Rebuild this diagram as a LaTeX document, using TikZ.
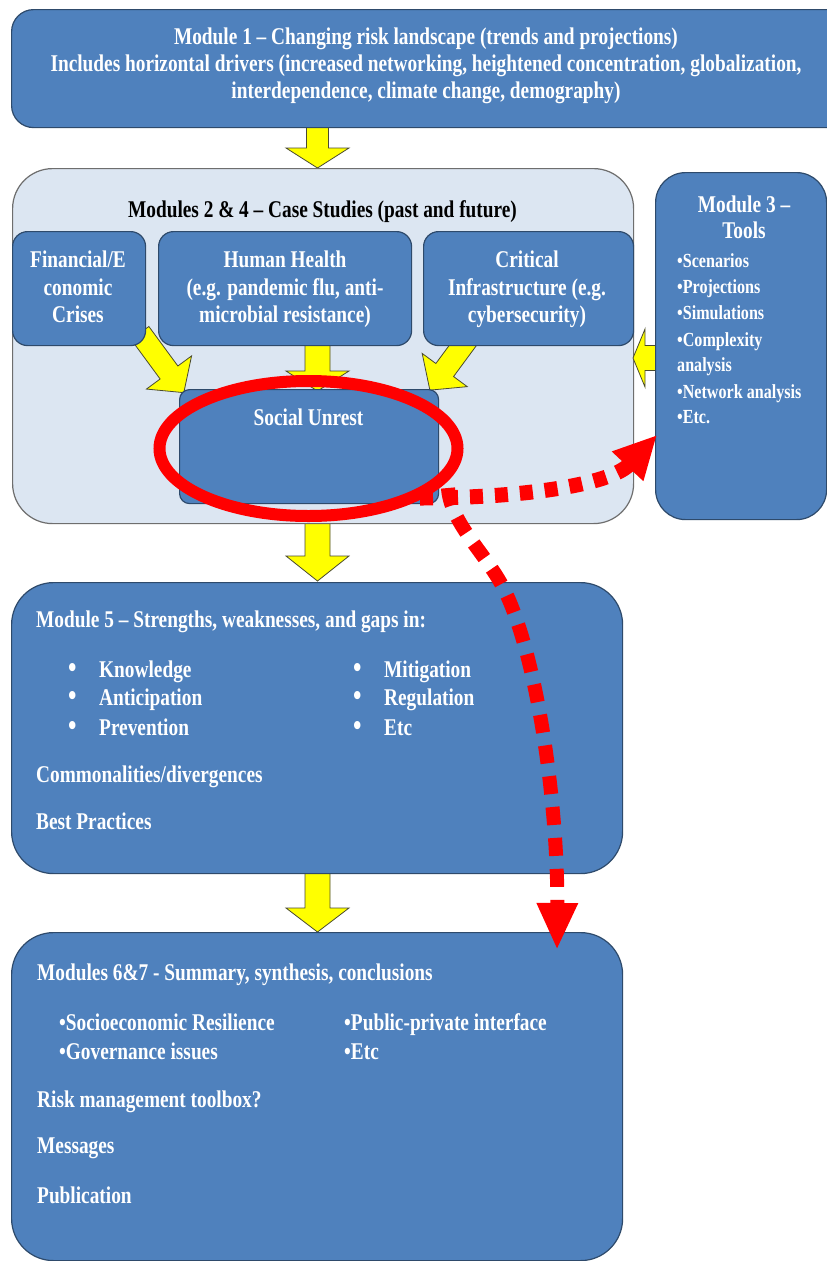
\documentclass[tikz,border=0pt]{standalone}
\usepackage{fontspec}
\setmainfont{Liberation Serif}[FakeStretch=0.805]
\usetikzlibrary{shapes.geometric,arrows.meta}
\definecolor{boxblue}{HTML}{4F81BD}
\definecolor{boxline}{HTML}{2E4A6B}
\definecolor{contfill}{HTML}{DCE6F2}
\definecolor{contline}{HTML}{6E6E6E}
\definecolor{yel}{HTML}{FFFF00}
\definecolor{yline}{HTML}{4A4A30}
\definecolor{redc}{HTML}{FF0000}
\tikzset{
  boxat/.style 2 args={minimum width=#1, minimum height=#2, anchor=north west, inner sep=0pt},
  bluebox/.style={draw=boxline, fill=boxblue, line width=1.2pt},
  contbox/.style={draw=contline, fill=contfill, line width=1.2pt, rounded corners=40pt},
  wt/.style={text=white, inner sep=0pt, font=\bfseries\fontsize{24}{28}\selectfont},
  bul/.style={text=white, inner sep=0pt, font=\bfseries\fontsize{30}{34}\selectfont, anchor=base west},
  bt/.style={text=black, inner sep=0pt, font=\bfseries\fontsize{24}{28}\selectfont},
  st/.style={text=white, inner sep=0pt, font=\bfseries\fontsize{20}{24}\selectfont, anchor=base west},
  yarrow/.style={draw=yline, fill=yel, line width=0.8pt, line join=miter},
  pics/yarr/.style n args={4}{code={
    \draw[yarrow] (0,-#3) -- (#1-#2,-#3) -- (#1-#2,-#4) -- (#1,0) -- (#1-#2,#4) -- (#1-#2,#3) -- (0,#3) -- cycle;}},
  ellred/.style={draw=redc, line width=12pt, ellipse, inner sep=0pt},
  redarrA/.style={draw=redc, line width=15pt, dash pattern=on 13pt off 12pt, -{Triangle[length=43pt,width=40pt]}},
  redarrB/.style={draw=redc, line width=14pt, dash pattern=on 18pt off 13pt, -{Triangle[length=47pt,width=38pt]}},
}
\begin{document}
\begin{tikzpicture}[x=1pt,y=-1pt]
\useasboundingbox (0,0) rectangle (827,1261);
\clip (0,0) rectangle (827,1261);
\fill[white] (0,0) rectangle (827,1261);

% block arrows between main modules
\pic[rotate=-90] at (317.5,126) {yarr={42}{20}{11}{31.5}};
\pic[rotate=-90] at (317.5,520) {yarr={61}{25}{12.5}{31.5}};
\pic[rotate=-90] at (317.5,870) {yarr={62}{24}{12.5}{31.5}};

% container
\node[contbox, boxat={621pt}{355pt}] (cont) at (12,168) {};
\node[bt, anchor=base] (contt) at (322.5,217) {Modules 2 \& 4 – Case Studies (past and future)};

% inner yellow arrows
\pic[rotate=-90] at (317.5,340) {yarr={51}{20}{12.5}{31.5}};
\pic[rotate=-53.7] at (140,333) {yarr={74}{25}{11}{28}};
\pic[rotate=-126.4] at (472,333) {yarr={71}{25}{11}{28}};
\pic[rotate=180] at (662,358) {yarr={29}{12}{12.5}{29}};

% inner boxes
\node[bluebox, rounded corners=15pt, boxat={133pt}{114pt}] (fin) at (12,231) {};
\node[bluebox, rounded corners=15pt, boxat={253pt}{114pt}] (hh) at (158,231) {};
\node[bluebox, rounded corners=15pt, boxat={210pt}{114pt}] (crit) at (423,231) {};
\node[bluebox, rounded corners=10pt, boxat={259pt}{114pt}] (su) at (179,389) {};

\node[wt, anchor=base] (fin1) at (78,267) {Financial/E};
\node[wt, anchor=base] (fin2) at (78,295) {conomic};
\node[wt, anchor=base] (fin3) at (78,322) {Crises};
\node[wt, anchor=base] (hh1) at (285,267) {Human Health};
\node[wt, anchor=base] (hh2) at (285,295) {(e.g. pandemic flu, anti-};
\node[wt, anchor=base] (hh3) at (285,322) {microbial resistance)};
\node[wt, anchor=base] (cr1) at (527,267) {Critical};
\node[wt, anchor=base] (cr2) at (527,295) {Infrastructure (e.g.};
\node[wt, anchor=base] (cr3) at (527,322) {cybersecurity)};
\node[wt, anchor=base] (su1) at (308.5,425) {Social Unrest};

% Module 1
\node[bluebox, rounded corners=22pt, boxat={840pt}{118pt}] (m1) at (11,9) {};
\node[wt, anchor=base] (m1a) at (426,44) {Module 1 – Changing risk landscape (trends and projections)};
\node[wt, anchor=base] (m1b) at (426,71) {Includes horizontal drivers (increased networking, heightened concentration, globalization,};
\node[wt, anchor=base] (m1c) at (426,98) {interdependence, climate change, demography)};

% Module 3
\node[bluebox, rounded corners=30pt, boxat={171pt}{347pt}] (m3) at (655,172) {};
\node[wt, anchor=base] (m3a) at (744,212) {Module 3 –};
\node[wt, anchor=base] (m3b) at (744,238) {Tools};
\node[st] (m3c) at (677,267) {•Scenarios};
\node[st] (m3d) at (677,293) {•Projections};
\node[st] (m3e) at (677,319) {•Simulations};
\node[st] (m3f) at (677,346) {•Complexity};
\node[st] (m3g) at (677,371) {analysis};
\node[st] (m3h) at (677,398) {•Network analysis};
\node[st] (m3i) at (677,423) {•Etc.};

% Module 5
\node[bluebox, rounded corners=42pt, boxat={611pt}{291pt}] (m5) at (11,582) {};
\node[wt, anchor=base west] (m5a) at (36,627) {Module 5 – Strengths, weaknesses, and gaps in:};
\node[bul] (m5b1) at (68,677) {•};
\node[wt, anchor=base west] (m5b) at (99,677) {Knowledge};
\node[bul] (m5c1) at (68,705) {•};
\node[wt, anchor=base west] (m5c) at (99,705) {Anticipation};
\node[bul] (m5d1) at (68,735) {•};
\node[wt, anchor=base west] (m5d) at (99,735) {Prevention};
\node[bul] (m5e1) at (353,677) {•};
\node[wt, anchor=base west] (m5e) at (384,677) {Mitigation};
\node[bul] (m5f1) at (353,705) {•};
\node[wt, anchor=base west] (m5f) at (384,705) {Regulation};
\node[bul] (m5g1) at (353,735) {•};
\node[wt, anchor=base west] (m5g) at (384,735) {Etc};
\node[wt, anchor=base west] (m5h) at (36,782) {Commonalities/divergences};
\node[wt, anchor=base west] (m5i) at (36,829) {Best Practices};

% Modules 6&7
\node[bluebox, rounded corners=42pt, boxat={611pt}{328pt}] (m67) at (11,932) {};
\node[wt, anchor=base west] (m67a) at (37,980) {Modules 6\&7 - Summary, synthesis, conclusions};
\node[wt, anchor=base west] (m67b) at (59,1030) {•Socioeconomic Resilience};
\node[wt, anchor=base west] (m67c) at (59,1059) {•Governance issues};
\node[wt, anchor=base west] (m67d) at (344,1030) {•Public-private interface};
\node[wt, anchor=base west] (m67e) at (344,1059) {•Etc};
\node[wt, anchor=base west] (m67f) at (37,1107) {Risk management toolbox?};
\node[wt, anchor=base west] (m67g) at (37,1153) {Messages};
\node[wt, anchor=base west] (m67h) at (37,1203) {Publication};

% red highlight
\node[ellred, minimum width=298pt, minimum height=135pt] (ell) at (308.5,448.5) {};
\coordinate (r1s) at (420,498);
\coordinate (r1e) at (657,435);
\coordinate (r2s) at (448,488);
\coordinate (r2m) at (499,580);
\coordinate (r2e) at (557,950);
\draw[redarrA] (r1s) .. controls (520,498) and (610,485) .. (r1e);
\draw[redarrB] (r2s) .. controls (450,520) and (480,548) .. (r2m) .. controls (535,640) and (558,800) .. (r2e);
\end{tikzpicture}
\end{document}
